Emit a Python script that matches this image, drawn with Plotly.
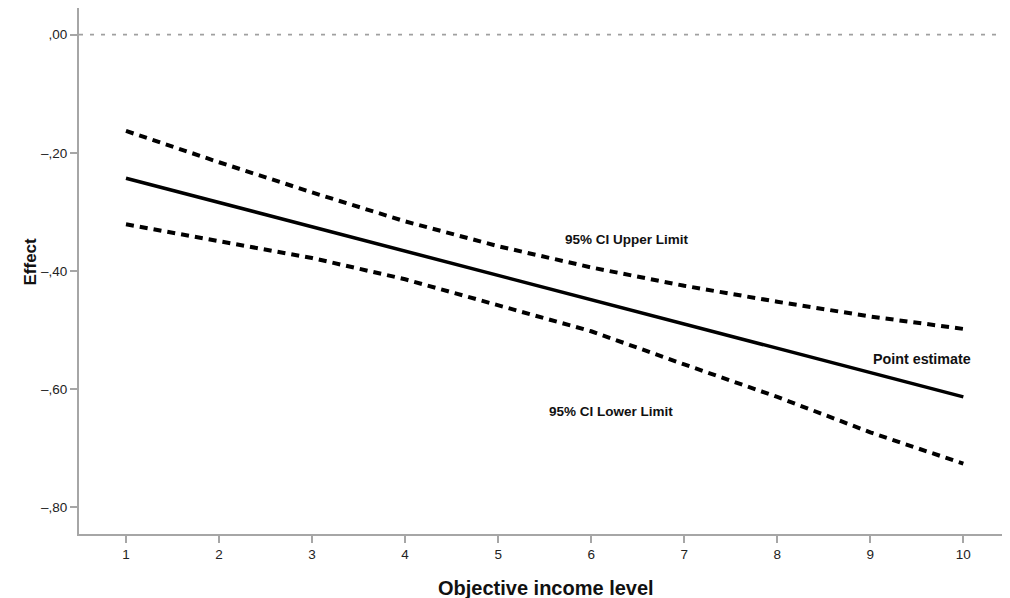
import plotly.graph_objects as go

income = [1, 2, 3, 4, 5, 6, 7, 8, 9, 10]
point_estimate = [-0.243, -0.284, -0.325, -0.366, -0.407, -0.448, -0.490, -0.531, -0.572, -0.613]
ci_upper = [-0.163, -0.216, -0.267, -0.316, -0.358, -0.394, -0.425, -0.452, -0.477, -0.498]
ci_lower = [-0.321, -0.349, -0.378, -0.414, -0.458, -0.502, -0.558, -0.613, -0.673, -0.726]

y_tickvals = [0, -0.2, -0.4, -0.6, -0.8]
y_ticktext = [",00", "\u2013,20", "\u2013,40", "\u2013,60", "\u2013,80"]
x_tickvals = income
x_ticktext = [str(v) for v in income]

FONT = "Liberation Sans, Arial, sans-serif"
AXIS_GREY = "#a6a6a6"
X_RANGE = [0.495, 10.48]

fig = go.Figure()

# reference line at zero
fig.add_trace(go.Scatter(x=X_RANGE, y=[0, 0], mode="lines",
                         line=dict(color="#a0a0a0", width=1.6, dash="4px,7px"),
                         hoverinfo="skip", showlegend=False))

fig.add_trace(go.Scatter(x=income, y=ci_upper, mode="lines",
                         line=dict(color="black", width=4, dash="8px,6px"),
                         name="95% CI Upper Limit", showlegend=False))
fig.add_trace(go.Scatter(x=income, y=ci_lower, mode="lines",
                         line=dict(color="black", width=4, dash="8px,6px"),
                         name="95% CI Lower Limit", showlegend=False))
fig.add_trace(go.Scatter(x=income, y=point_estimate, mode="lines",
                         line=dict(color="black", width=3.5),
                         name="Point estimate", showlegend=False))

label_font = dict(family=FONT, size=13.5, color="#111111")
fig.add_annotation(x=6.39, y=-0.346, text="<b>95% CI Upper Limit</b>", showarrow=False, font=label_font)
fig.add_annotation(x=6.21, y=-0.637, text="<b>95% CI Lower Limit</b>", showarrow=False, font=label_font)
fig.add_annotation(x=9.56, y=-0.549, text="<b>Point estimate</b>", showarrow=False,
                   font=dict(family=FONT, size=14.3, color="#111111"))

fig.add_annotation(xref="paper", yref="paper", x=-0.0646, y=0.519, text="<b>Effect</b>",
                   textangle=-90, showarrow=False, font=dict(family=FONT, size=17, color="#111111"))
fig.add_annotation(xref="paper", yref="paper", x=0.503, y=-0.103, yanchor="middle",
                   text="<b>Objective income level</b>", showarrow=False,
                   font=dict(family=FONT, size=20, color="#111111"))

fig.update_layout(
    width=1002, height=590,
    margin=dict(l=71, r=2, t=0, b=64, pad=0),
    plot_bgcolor="white", paper_bgcolor="white",
    font=dict(family=FONT, size=13, color="#222222"),
    showlegend=False,
)
fig.update_xaxes(range=X_RANGE, tickvals=x_tickvals, ticktext=x_ticktext,
                 showgrid=False, zeroline=False, showline=True, linecolor=AXIS_GREY, linewidth=2,
                 ticks="outside", ticklen=7, tickcolor=AXIS_GREY, tickwidth=1.5,
                 tickfont=dict(family=FONT, size=13.5, color="#222222"))
fig.update_yaxes(range=[-0.845, 0.045], tickvals=y_tickvals, ticktext=y_ticktext,
                 showgrid=False, zeroline=False, showline=True, linecolor=AXIS_GREY, linewidth=2,
                 ticks="outside", ticklen=7, tickcolor=AXIS_GREY, tickwidth=1.5,
                 tickfont=dict(family=FONT, size=13.5, color="#222222"))

fig.write_html("out.html")
